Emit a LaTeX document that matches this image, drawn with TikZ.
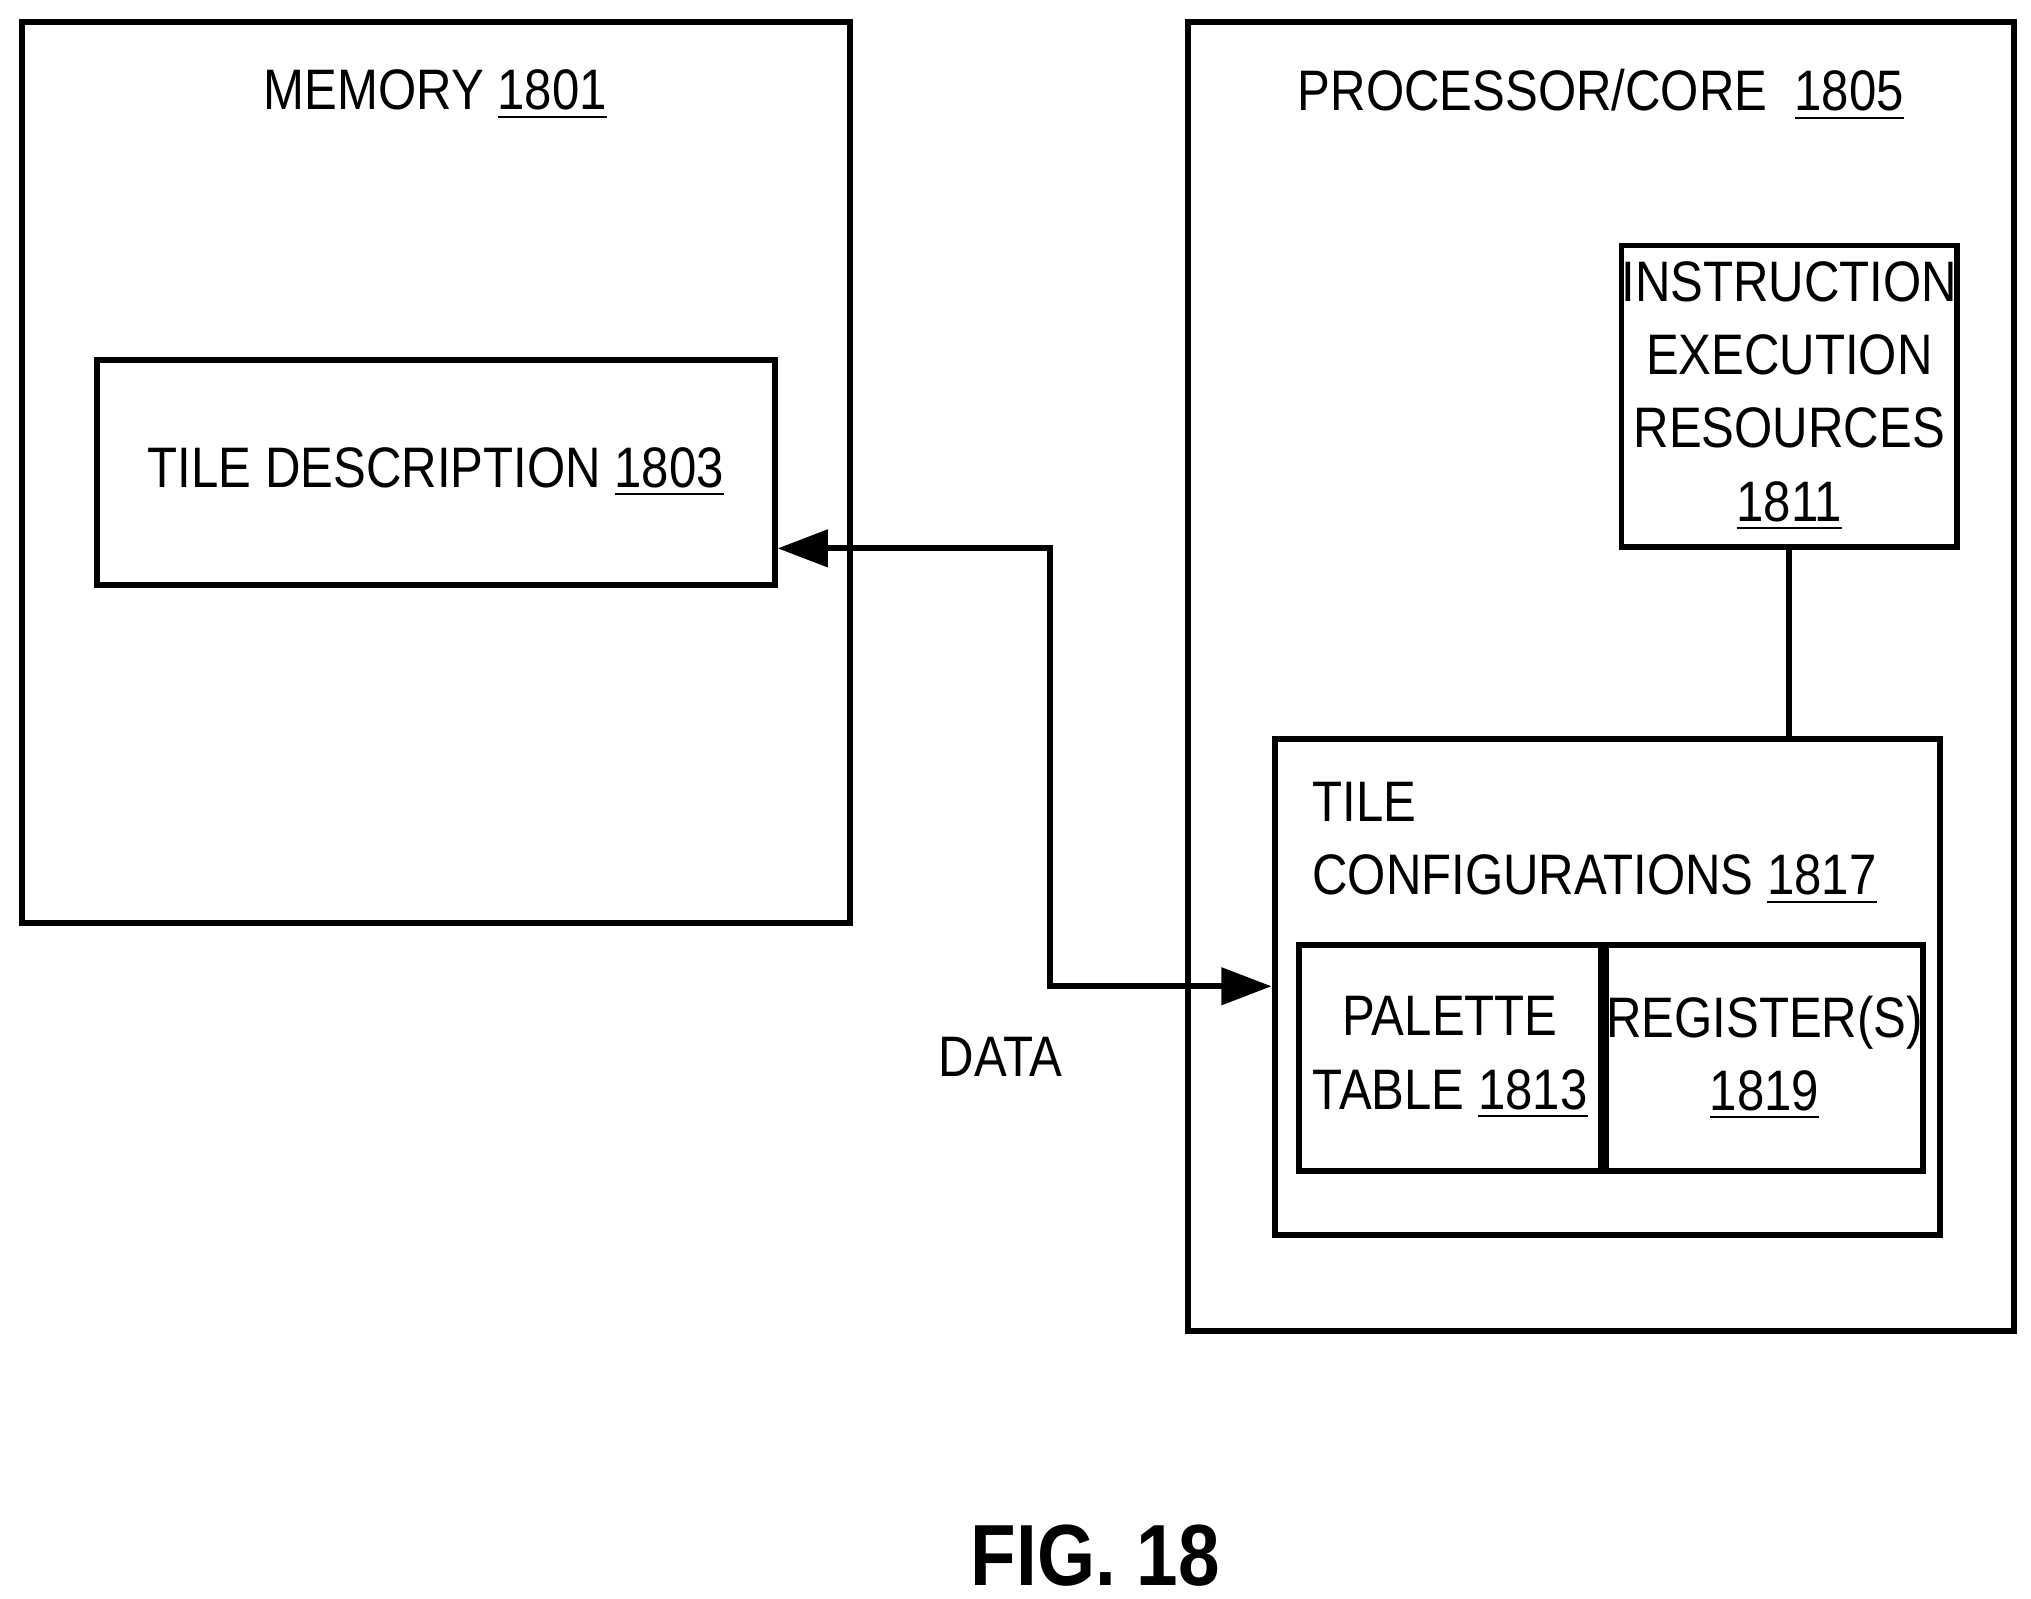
\documentclass[tikz,border=0pt]{standalone}
\usepackage{fontspec}
\setmainfont{Liberation Sans}[FakeStretch=0.86]
\usetikzlibrary{positioning}
\begin{document}
\begin{tikzpicture}
    [x=0.01cm,y=-0.01cm,line width=1.3pt,
     box/.style={draw,inner sep=0pt},
     lbl/.style={font=\fontsize{12.5}{16}\selectfont,align=center},
     link/.style={<->,>={Triangle[length=11pt,width=8pt]}}]
  \usetikzlibrary{arrows.meta}
  \useasboundingbox (0,0) rectangle (1563,1230);

  % outer blocks
  \draw (17,17) rectangle (654,710);
  \node[lbl] (mem) at (335,73) {MEMORY \underline{1801}};
  \draw (914,17) rectangle (1550,1024);
  \node[lbl] (proc) at (1232,73) {PROCESSOR/CORE\ \ \underline{1805}};

  % inner blocks
  \node[box,lbl,minimum width=521\pgflinewidth,minimum width=5.21cm,minimum height=1.73cm] (desc) at (335.5,363.5) {TILE DESCRIPTION \underline{1803}};
  \node[box,lbl,minimum width=2.32cm,minimum height=2.32cm] (exec) at (1377,305) {INSTRUCTION\\EXECUTION\\RESOURCES\\\underline{1811}};
  \node[box,minimum width=5.12cm,minimum height=3.81cm] (conf) at (1237,759.5) {};
  \node[lbl,align=left,anchor=north west] (conftxt) at (996,588) {TILE\\CONFIGURATIONS \underline{1817}};
  \node[box,lbl,minimum width=2.32cm,minimum height=1.74cm] (pal) at (1116,814) {PALETTE\\TABLE \underline{1813}};
  \node[box,lbl,minimum width=2.32cm,minimum height=1.74cm] (reg) at (1358,814) {REGISTER(S)\\\underline{1819}};

  % connectors
  \coordinate (bend1) at (808,422);
  \coordinate (bend2) at (808,759);
  \draw[link] (desc.east |- bend1) -- (bend1) -- (bend2) -- (conf.west |- bend2);
  \node[lbl] (data) at (770,813) {DATA};
  \draw (exec.south) -- (exec.south |- conf.north);

  \node[font=\fontsize{19}{22}\selectfont\bfseries] (fig) at (843,1197) {FIG. 18};
\end{tikzpicture}
\end{document}
